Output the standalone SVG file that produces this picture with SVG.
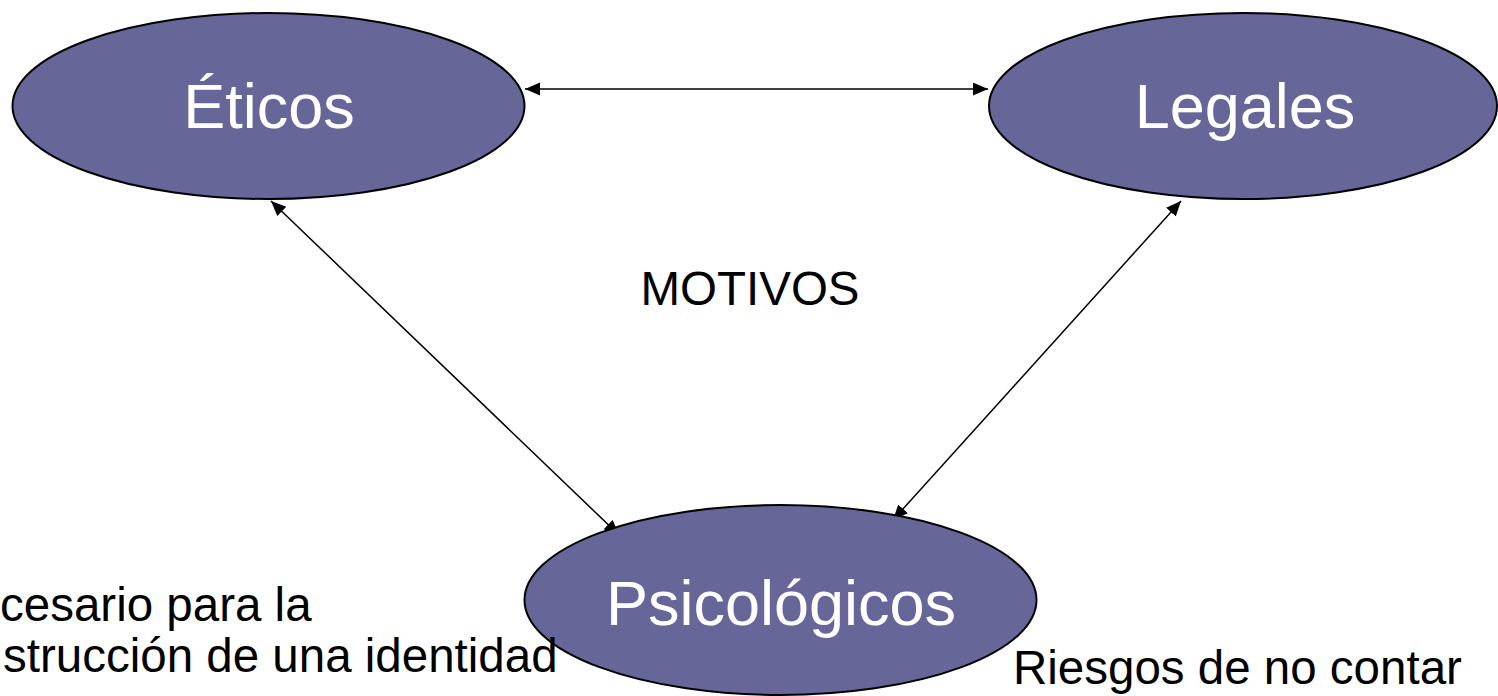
<svg xmlns="http://www.w3.org/2000/svg" width="1498" height="696" viewBox="0 0 1498 696">
  <style>
    .node { fill: #666699; stroke: #000000; stroke-width: 2; }
    .nlabel { font-family: "Liberation Sans", Arial, sans-serif; font-size: 63px; fill: #ffffff; text-anchor: middle; }
    .label { font-family: "Liberation Sans", Arial, sans-serif; font-size: 47.5px; fill: #000000; }
    .conn { stroke: #000000; stroke-width: 1.5; fill: none; marker-start: url(#arr); marker-end: url(#arr); }
  </style>
  <defs>
    <marker id="arr" markerUnits="userSpaceOnUse" markerWidth="16" markerHeight="14" refX="15" refY="6.5" orient="auto-start-reverse" viewBox="0 0 16 14">
      <path d="M0,0 L15,6.5 L0,13 z" fill="#000000"/>
    </marker>
  </defs>
  <rect width="1498" height="696" fill="#ffffff"/>
  <g id="connectors">
    <line class="conn" x1="525" y1="89" x2="988" y2="89"/>
    <line class="conn" x1="271" y1="201" x2="619" y2="535"/>
    <line class="conn" x1="1181" y1="201" x2="893" y2="520"/>
  </g>
  <g id="node-eticos">
    <ellipse class="node" cx="268.5" cy="106" rx="256" ry="93"/>
    <text class="nlabel" x="269" y="128">Éticos</text>
  </g>
  <g id="node-legales">
    <ellipse class="node" cx="1243" cy="106" rx="254" ry="93"/>
    <text class="nlabel" x="1245" y="128">Legales</text>
  </g>
  <g id="node-psicologicos">
    <ellipse class="node" cx="780.5" cy="600" rx="256" ry="95"/>
    <text class="nlabel" x="781" y="625">Psicológicos</text>
  </g>
  <g id="labels">
    <text class="label" x="750" y="305" text-anchor="middle" font-size="47">MOTIVOS</text>
    <text class="label" x="0" y="621" font-size="46">cesario para la</text>
    <text class="label" x="3" y="672">strucción de una identidad</text>
    <text class="label" x="1013" y="684" font-size="48">Riesgos de no contar</text>
  </g>
</svg>
